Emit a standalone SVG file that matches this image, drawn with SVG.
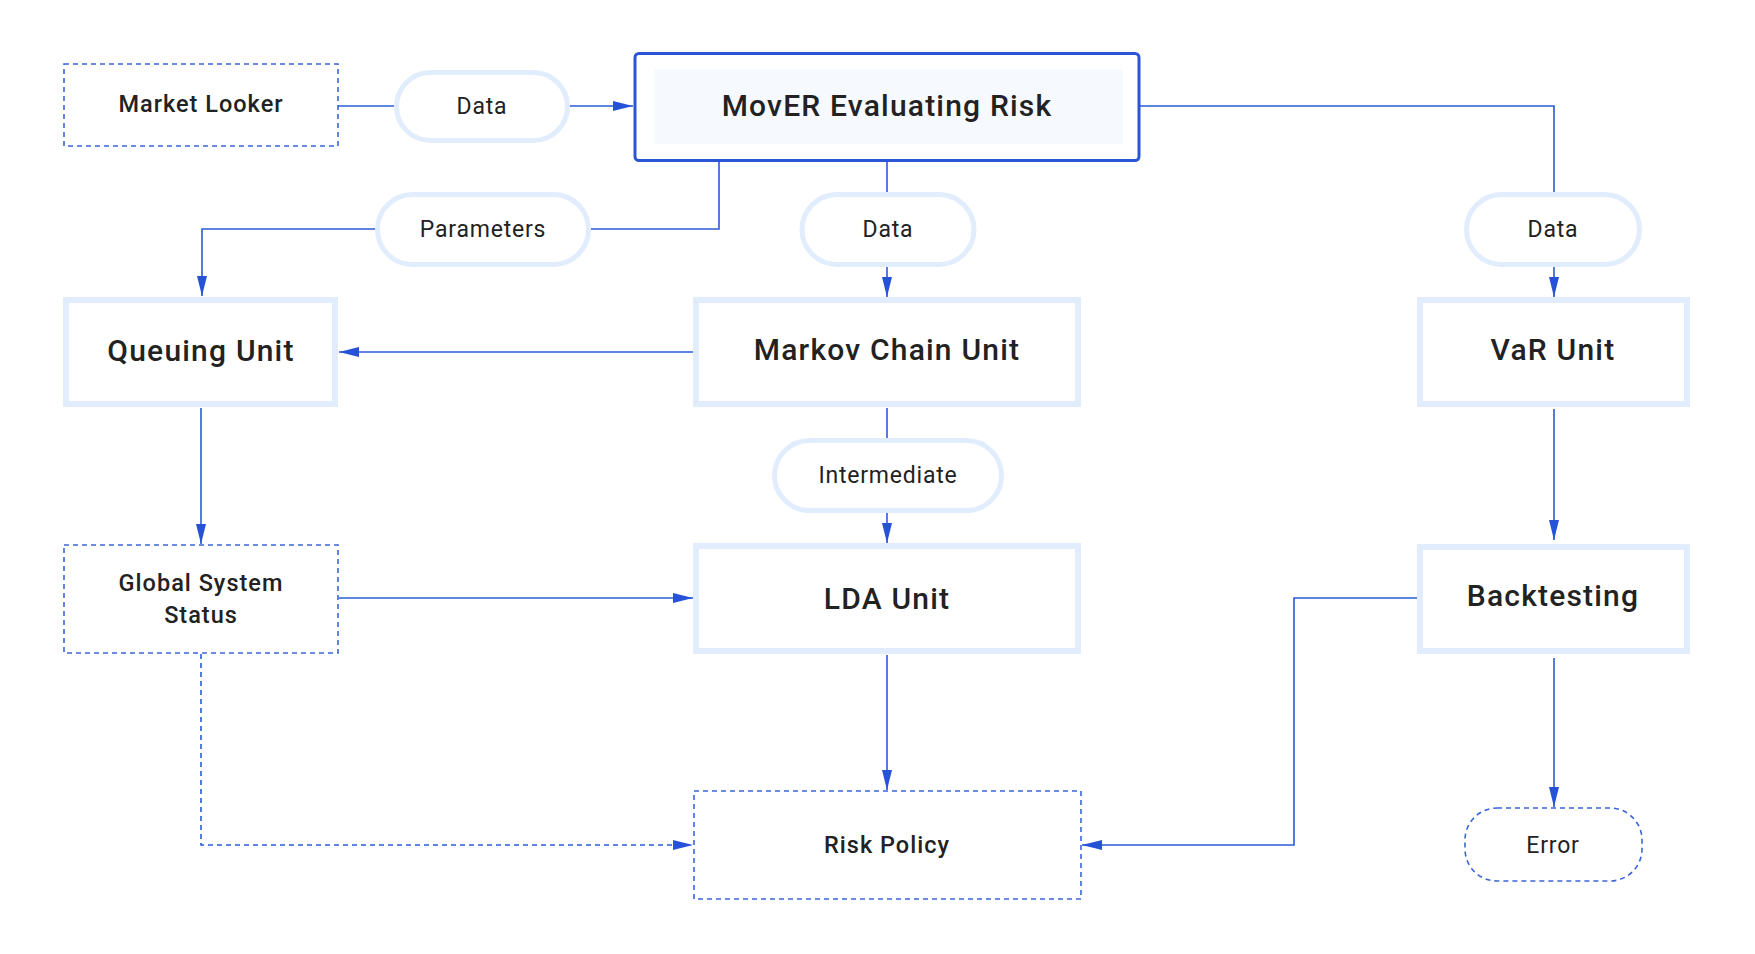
<svg xmlns="http://www.w3.org/2000/svg" width="1755" height="954" viewBox="0 0 1755 954">
<style>
.bg{fill:#ffffff}
.unit{fill:#ffffff;stroke:#e1edfd;stroke-width:6}
.dash{fill:#ffffff;stroke:#3a64db;stroke-width:1.6;stroke-dasharray:5 4}
.pill{fill:#ffffff;stroke:#e1edfd;stroke-width:5}
.main{fill:#ffffff;stroke:#2a56d6;stroke-width:3}
.inner{fill:#f6f9fe}
.t{font-family:Roboto,"Liberation Sans",sans-serif;fill:#222222;text-anchor:middle}
.big{font-size:30px;font-weight:500;letter-spacing:1.2px}
.mid{font-size:23.5px;font-weight:500;letter-spacing:1px}
.lbl{font-size:23px;font-weight:400;letter-spacing:0.8px}
.c{fill:none;stroke:#2a5bd7;stroke-width:1.6}
.cd{fill:none;stroke:#2a5bd7;stroke-width:1.6;stroke-dasharray:5 4}
</style>
<defs>
<marker id="ah" markerUnits="userSpaceOnUse" markerWidth="20" markerHeight="10" refX="20" refY="5" orient="auto">
<path d="M0,0 L20,5 L0,10 z" fill="#2652d8"/>
</marker>
</defs>
<rect class="bg" x="0" y="0" width="1755" height="954"/>
<g id="connectors">
<path class="c" d="M338,106 H394"/>
<path class="c" d="M570,106 H633" marker-end="url(#ah)"/>
<path class="c" d="M719,162 V229 H591"/>
<path class="c" d="M375,229 H202 V296" marker-end="url(#ah)"/>
<path class="c" d="M887,162 V192"/>
<path class="c" d="M887,267 V297" marker-end="url(#ah)"/>
<path class="c" d="M1140,106 H1554 V192"/>
<path class="c" d="M1554,267 V297" marker-end="url(#ah)"/>
<path class="c" d="M693,352 H339" marker-end="url(#ah)"/>
<path class="c" d="M201,408 V544" marker-end="url(#ah)"/>
<path class="c" d="M887,408 V438"/>
<path class="c" d="M887,513 V543" marker-end="url(#ah)"/>
<path class="c" d="M339,598 H693" marker-end="url(#ah)"/>
<path class="c" d="M887,655 V790" marker-end="url(#ah)"/>
<path class="cd" d="M201,654 V845 H693" marker-end="url(#ah)"/>
<path class="c" d="M1554,409 V540" marker-end="url(#ah)"/>
<path class="c" d="M1417,598 H1294 V845 H1082" marker-end="url(#ah)"/>
<path class="c" d="M1554,658 V807" marker-end="url(#ah)"/>
</g>
<g id="market-looker">
<rect class="dash" x="64" y="64" width="274" height="82"/>
<text class="t mid" x="201" y="112">Market Looker</text>
</g>
<g id="data-1">
<rect class="pill" x="396.5" y="72.5" width="171" height="68" rx="34"/>
<text class="t lbl" x="482" y="114">Data</text>
</g>
<g id="mover">
<rect class="main" x="635" y="53.5" width="504" height="107" rx="4"/>
<rect class="inner" x="654" y="69" width="469" height="75"/>
<text class="t big" x="887" y="116">MovER Evaluating Risk</text>
</g>
<g id="parameters">
<rect class="pill" x="377.5" y="194.5" width="211" height="70" rx="35"/>
<text class="t lbl" x="483" y="237">Parameters</text>
</g>
<g id="data-2">
<rect class="pill" x="802" y="194.5" width="172" height="70" rx="35"/>
<text class="t lbl" x="888" y="237">Data</text>
</g>
<g id="data-3">
<rect class="pill" x="1466.5" y="194.5" width="173" height="70" rx="35"/>
<text class="t lbl" x="1553" y="237">Data</text>
</g>
<g id="queuing-unit">
<rect class="unit" x="66" y="300" width="269" height="104"/>
<text class="t big" x="201" y="361">Queuing Unit</text>
</g>
<g id="markov-chain-unit">
<rect class="unit" x="696" y="300" width="382" height="104"/>
<text class="t big" x="887" y="360">Markov Chain Unit</text>
</g>
<g id="var-unit">
<rect class="unit" x="1420" y="300" width="267" height="104"/>
<text class="t big" x="1553" y="360">VaR Unit</text>
</g>
<g id="intermediate">
<rect class="pill" x="774.5" y="440.5" width="227" height="70" rx="35"/>
<text class="t lbl" x="888" y="483">Intermediate</text>
</g>
<g id="global-system-status">
<rect class="dash" x="64" y="545" width="274" height="108"/>
<text class="t mid" x="201" y="591">Global System</text>
<text class="t mid" x="201" y="623">Status</text>
</g>
<g id="lda-unit">
<rect class="unit" x="696" y="546" width="382" height="105"/>
<text class="t big" x="887" y="609">LDA Unit</text>
</g>
<g id="backtesting">
<rect class="unit" x="1420" y="547" width="267" height="104"/>
<text class="t big" x="1553" y="606">Backtesting</text>
</g>
<g id="risk-policy">
<rect class="dash" x="694" y="791" width="387" height="108"/>
<text class="t mid" x="887" y="853">Risk Policy</text>
</g>
<g id="error">
<rect class="dash" x="1465" y="808" width="177" height="73" rx="32"/>
<text class="t lbl" x="1553" y="853">Error</text>
</g>
</svg>
